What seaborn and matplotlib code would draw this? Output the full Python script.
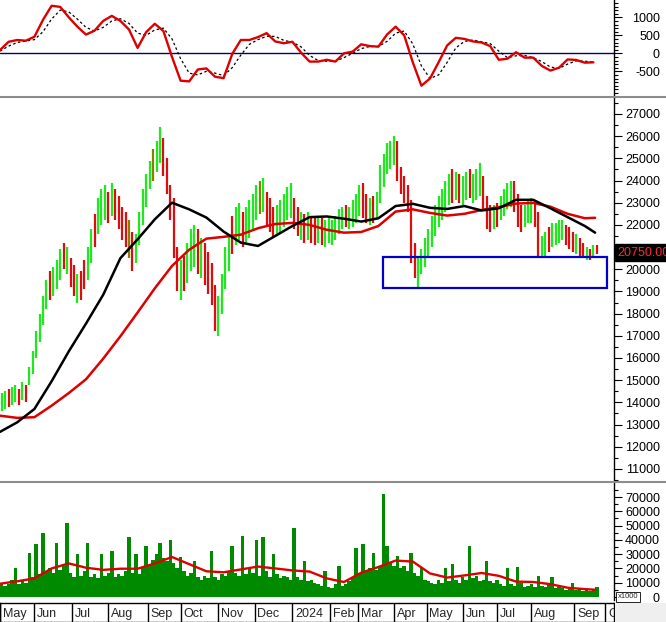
import numpy as np
import matplotlib
matplotlib.use("Agg")
import matplotlib.pyplot as plt
import seaborn as sns
from matplotlib.patches import Rectangle
from matplotlib.lines import Line2D
import matplotlib.transforms as mtransforms

sns.set_style("white")
plt.rcParams['font.family'] = ['Liberation Sans', 'DejaVu Sans']

# ---------------- data ----------------
month_labels = ["May", "Jun", "Jul", "Aug", "Sep", "Oct", "Nov", "Dec", "2024",
                "Feb", "Mar", "Apr", "May", "Jun", "Jul", "Aug", "Sep", "Oct"]
month_start_day = [0, 20, 42, 63, 86, 105, 127, 148, 170, 192, 208, 229, 248,
                   269, 289, 309, 334, 352]

# price bars (two trading days per bar), values in hundreds of VND
bar_low = [136, 137, 138, 139, 140, 139, 141, 140, 148, 153,
           160, 167, 175, 182, 186, 188, 191, 195, 200, 198,
           192, 188, 185, 186, 191, 195, 203, 210, 216, 220,
           222, 221, 224, 222, 218, 213, 210, 205, 199, 203,
           211, 220, 228, 236, 240, 244, 248, 242, 234, 222,
           205, 190, 186, 190, 194, 199, 201, 198, 196, 193,
           189, 184, 172, 170, 180, 191, 199, 207, 211, 213,
           210, 212, 214, 218, 222, 225, 226, 220, 217, 214,
           215, 216, 219, 222, 223, 218, 215, 213, 212, 213,
           212, 211, 212, 211, 210, 212, 211, 213, 216, 218,
           219, 218, 219, 221, 224, 223, 221, 220, 221, 222,
           230, 237, 243, 245, 247, 240, 234, 230, 226, 203,
           196, 192, 198, 201, 205, 210, 215, 219, 222, 226,
           229, 230, 231, 230, 229, 231, 232, 230, 231, 233,
           227, 218, 217, 218, 219, 222, 224, 227, 228, 226,
           219, 217, 219, 221, 221, 219, 205, 205, 206, 208,
           210, 211, 212, 213, 211, 209, 208, 207, 206, 205,
           204, 204, 206, 207]
bar_high = [144, 145, 146, 147, 148, 146, 149, 148, 156, 163,
            172, 180, 188, 195, 199, 201, 204, 209, 212, 210,
            205, 202, 198, 199, 204, 210, 218, 225, 232, 236,
            238, 235, 239, 236, 233, 228, 226, 222, 217, 216,
            226, 236, 243, 249, 254, 258, 264, 259, 250, 238,
            232, 210, 204, 206, 212, 218, 220, 218, 214, 212,
            208, 203, 193, 188, 198, 210, 216, 224, 228, 230,
            226, 228, 231, 234, 238, 240, 241, 235, 232, 228,
            229, 231, 234, 237, 239, 232, 228, 226, 225, 226,
            224, 223, 224, 223, 222, 224, 222, 224, 227, 228,
            229, 228, 231, 234, 238, 239, 234, 232, 233, 235,
            247, 252, 257, 258, 260, 258, 246, 242, 238, 231,
            212, 205, 209, 214, 218, 224, 229, 233, 236, 240,
            243, 245, 244, 243, 242, 244, 245, 243, 245, 248,
            242, 233, 229, 229, 230, 233, 236, 239, 240, 240,
            234, 229, 229, 231, 232, 230, 226, 215, 217, 219,
            221, 221, 222, 222, 220, 219, 217, 216, 214, 212,
            210, 209, 211, 211]
bar_dir = ("GGRGGRGRGG" "GGGGRGGGRG" "RRGRR" "GGRGG" "GRGRR" "RRORG"
           "GGGGOGG" "RRR" "RRGR" "GGGRG" "RRRRG" "GGGRGG" "RGGGGOG"
           "RRRG" "GGGG" "RRGRGRRGRGG" "GGGGRGGGG" "RRGRG" "GGGGG"
           "RRRRR" "RGGGG" "GGGGGG" "RGRGGRGGG" "RRRGR" "GGGGR"
           "RRGGGR" "RGGRGGGG" "RRRGRRGR" "GR")

# volume per bar (axis units, x1000 shares, given in thousands)
volume = [10, 8, 9, 12, 20, 9, 11, 10, 31, 14,
          37, 16, 45, 18, 20, 17, 38, 19, 22, 52,
          17, 14, 30, 15, 18, 38, 14, 16, 13, 30,
          15, 17, 32, 14, 16, 15, 18, 42, 17, 30,
          16, 20, 36, 22, 26, 30, 38, 27, 25, 40,
          24, 20, 28, 18, 15, 17, 25, 14, 12, 15,
          13, 32, 14, 12, 16, 15, 18, 36, 17, 15,
          43, 16, 20, 17, 40, 15, 42, 18, 14, 30,
          16, 13, 15, 14, 12, 48, 14, 12, 25, 11,
          12, 10, 9, 8, 18, 7, 6, 9, 22, 8,
          9, 11, 14, 34, 16, 37, 18, 20, 31, 19,
          22, 72, 36, 24, 22, 29, 20, 22, 18, 31,
          17, 15, 20, 12, 11, 10, 9, 12, 10, 20,
          11, 23, 12, 10, 14, 12, 36, 13, 15, 11,
          12, 25, 11, 10, 12, 9, 8, 20, 9, 8,
          21, 10, 7, 8, 9, 7, 15, 8, 7, 9,
          14, 6, 7, 6, 5, 6, 10, 5, 6, 4,
          5, 4, 5, 7]

# moving averages sampled every 10 trading days (last sample = day 346)
ma_days = list(range(0, 341, 10)) + [346]
ma_black = [12670, 13100, 13700, 14950, 16300, 17550, 18850, 20500, 21350, 22250,
            23000, 22700, 22330, 21700, 21200, 21050, 21500, 21950, 22350, 22380,
            22280, 22150, 22300, 22850, 22950, 22770, 22720, 22850, 22650, 22750,
            23130, 23130, 22750, 22350, 21950, 21650]
ma_red = [13400, 13300, 13330, 13850, 14420, 15040, 15970, 16980, 18050, 19140,
          20150, 20880, 21380, 21460, 21560, 21850, 22040, 22090, 22000, 21780,
          21650, 21680, 21950, 22600, 22700, 22540, 22420, 22500, 22670, 22800,
          22960, 22990, 22820, 22500, 22300, 22320]
vol_ma = [9.3, 11, 13, 20, 23.5, 20.5, 19, 19.8, 19.8, 23.5,
          28, 23, 18, 17.3, 19.3, 21.3, 20, 18.6, 17.8, 13,
          10.5, 17, 21, 25.5, 24.8, 16.5, 13.6, 15.1, 16.8, 14.8,
          10.8, 10.5, 9, 6.5, 5.5, 5.1]

# MACD sampled every 5 trading days
macd_days = list(range(0, 350, 5))
macd = [90, 320, 370, 350, 460, 930, 1320, 1290, 1000, 740,
        520, 630, 900, 1040, 900, 660, 150, 590, 820, 620,
        -100, -760, -780, -450, -420, -650, -690, -20, 370, 370,
        450, 560, 330, 280, 320, 20, -230, -230, -180, -230,
        0, 46, 250, 200, 185, 520, 740, 500, -250, -900,
        -700, -250, 220, 430, 400, 330, 300, 200, -180, -150,
        30, -120, -120, -350, -480, -400, -170, -185, -260, -250]
signal = [60, 200, 300, 340, 380, 600, 950, 1200, 1150, 950,
          720, 620, 720, 900, 960, 830, 560, 500, 650, 700,
          400, -150, -550, -600, -500, -550, -620, -400, -50, 250,
          380, 470, 470, 360, 310, 180, -60, -200, -220, -220,
          -120, 0, 130, 190, 190, 330, 560, 620, 260, -350,
          -700, -600, -250, 150, 330, 370, 320, 270, 60, -120,
          -70, -60, -120, -230, -380, -420, -300, -210, -220, -240]

last_price = 20750

# ---------------- layout ----------------
W, H = 666, 622
PLOT_R = 614
X0, X1 = 0, PLOT_R / 1.72

fig = plt.figure(figsize=(W / 100, H / 100), dpi=100)
fig.patch.set_facecolor("white")


def ax_at(top, bottom):
    return fig.add_axes([0, 1 - bottom / H, PLOT_R / W, (bottom - top) / H])


ax_m = ax_at(0, 96)
ax_p = ax_at(98, 480)
ax_v = ax_at(483, 600)
ax_x = ax_at(603, 622)


def style_panel(ax, ylim, major, minor, hide=()):
    ax.set_xlim(X0, X1)
    ax.set_ylim(*ylim)
    ax.set_facecolor("white")
    for s in ["left", "top", "bottom"]:
        ax.spines[s].set_visible(False)
    ax.spines["right"].set_color("black")
    ax.spines["right"].set_linewidth(1.0)
    ax.yaxis.tick_right()
    ax.set_yticks(major)
    ax.set_yticks(minor, minor=True)
    ax.set_yticklabels(["" if v in hide else str(v) for v in major])
    ax.tick_params(axis="y", which="major", direction="out", length=5.5, width=0.8,
                   pad=27.6, labelsize=9, colors="black", right=True, left=False,
                   labelright=True, labelleft=False)
    ax.tick_params(axis="y", which="minor", direction="out", length=3, width=0.8,
                   right=True, left=False, colors="black")
    plt.setp(ax.get_yticklabels(), ha="right")
    ax.set_xticks([])
    ax.set_xlabel("")
    ax.set_ylabel("")


# ---------------- MACD panel ----------------
ax_m.axhline(0, color="#000080", lw=1.0, zorder=1)
sns.lineplot(x=macd_days, y=signal, ax=ax_m, color="black", lw=0.9,
             linestyle=(0, (2, 2)), zorder=2)
sns.lineplot(x=macd_days, y=macd, ax=ax_m, color="#dd0000", lw=1.7, zorder=3)
style_panel(ax_m, (-1186, 1481), [-500, 0, 500, 1000], list(range(-1100, 1500, 100)))

# ---------------- price panel ----------------
colmap = {"G": "#1ee81e", "R": "#dd0d0d", "O": "#8a7d00"}
bx = np.arange(len(bar_low)) * 2 + 1
lows = np.array(bar_low) * 100
highs = np.array(bar_high) * 100
cols = [colmap[c] for c in bar_dir]
ax_p.vlines(bx, lows, highs, colors=cols, lw=1.6, zorder=2)
sns.lineplot(x=ma_days, y=ma_red, ax=ax_p, color="#dd0000", lw=1.8, zorder=4)
sns.lineplot(x=ma_days, y=ma_black, ax=ax_p, color="black", lw=1.8, zorder=5)

zone_day0, zone_day1 = 222.7, 352.9
zone_lo, zone_hi = 19170, 20560
ax_p.add_patch(Rectangle((zone_day0, zone_lo), zone_day1 - zone_day0, zone_hi - zone_lo,
                         fill=False, edgecolor="#0000cc", lw=1.6, zorder=6))
style_panel(ax_p, (10512, 27720), list(range(11000, 27001, 1000)),
            list(range(10500, 27600, 500)), hide=(21000,))

trans = mtransforms.blended_transform_factory(ax_p.transAxes, ax_p.transData)
ax_p.text(1.006, last_price, f"{last_price:.2f}", transform=trans, color="#ff2a2a",
          fontsize=9, va="center", ha="left", zorder=20, clip_on=False,
          bbox=dict(facecolor="black", edgecolor="black", pad=1.6))

# ---------------- volume panel ----------------
vx = np.arange(len(volume)) * 2 + 1
ax_v.bar(vx, np.array(volume) * 1000, width=2.0, color="#008a00", linewidth=0, zorder=2)
sns.lineplot(x=ma_days, y=np.array(vol_ma) * 1000, ax=ax_v, color="#dd0000", lw=1.7, zorder=3)
style_panel(ax_v, (-2100, 79800), list(range(0, 70001, 10000)),
            list(range(5000, 76000, 5000)))
fig.text(618 / W, 1 - 597 / H, "x1000", fontsize=5.5, va="center", ha="left",
         bbox=dict(facecolor="white", edgecolor="black", lw=0.6, pad=1.2), zorder=20)

# ---------------- month strip ----------------
ax_x.set_xlim(X0, X1)
ax_x.set_ylim(0, 1)
ax_x.set_xticks([])
ax_x.set_yticks([])
for s in ax_x.spines.values():
    s.set_color("black")
    s.set_linewidth(1.0)
ax_x.vlines(month_start_day, 0, 1, color="black", lw=1.0)
for d, lab in zip(month_start_day, month_labels):
    ax_x.text(d + 1.6, 0.42, lab, fontsize=9, va="center", ha="left", clip_on=True)

# ---------------- decorations ----------------
for yy in (96.5, 481.5):
    fig.add_artist(Line2D([0, 1], [1 - yy / H] * 2, color="#8c8c8c", lw=1.5,
                          transform=fig.transFigure))
fig.add_artist(Rectangle((PLOT_R / W + 0.001, 0), 1, 19 / H, transform=fig.transFigure,
                         facecolor="#efefef", edgecolor="none"))

fig.savefig("out.png", dpi=100, facecolor="white")
